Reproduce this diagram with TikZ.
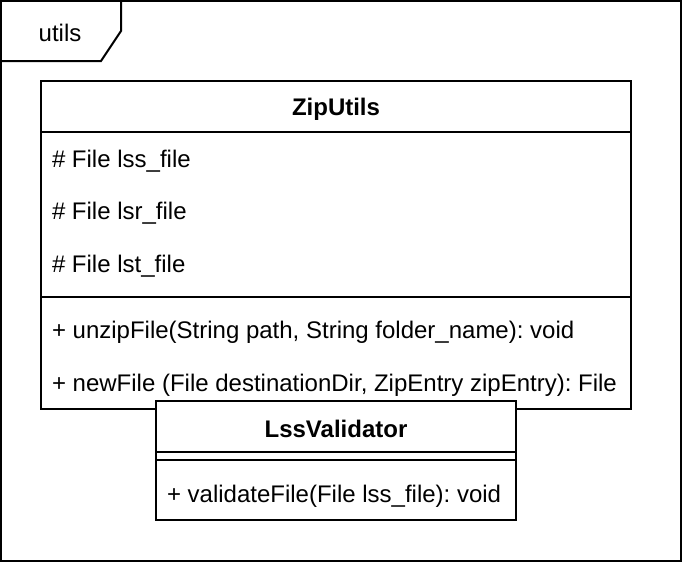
\documentclass[tikz,border=0pt]{standalone}
\usepackage{fontspec}
\setmainfont{Liberation Sans}
\frenchspacing
\usetikzlibrary{positioning}

\begin{document}
\begin{tikzpicture}[x=0.75pt,y=-0.75pt,line width=1.5pt,
		member/.style={anchor=west,inner sep=0pt,font=\fontsize{18}{21}\selectfont},
		title/.style={inner sep=0pt,font=\fontsize{18}{21}\selectfont\bfseries}]
		\useasboundingbox (0,0) rectangle (682,562);

		% Package frame
		\draw (1,1) rectangle (681,561);
		\draw (1,61) -- (101,61) -- (121,31) -- (121,1);
		\node[inner sep=0pt,font=\fontsize{18}{21}\selectfont] (pkg) at (60,33) {utils};

		% ZipUtils
		\draw[fill=white] (41,81) rectangle (631,409);
		\draw (41,132) -- (631,132);
		\draw (41,297) -- (631,297);
		\node[title] (zip) at (336,109) {ZipUtils};
		\node[member] (lss) at (51,161) {\# File lss\_file};
		\node[member] (lsr) at (51,213) {\# File lsr\_file};
		\node[member] (lst) at (51,266) {\# File lst\_file};
		\node[member] (unzip) at (51,332) {+ unzipFile(String path, String folder\_name): void};
		\node[member] (newfile) at (51,385) {+ newFile (File destinationDir, ZipEntry zipEntry): File};

		% LssValidator
		\draw[fill=white] (156,401) rectangle (516,520);
		\draw (156,452) -- (516,452);
		\draw (156,460) -- (516,460);
		\node[title] (val) at (336,429) {LssValidator};
		\node[member] (validate) at (166,496) {+ validateFile(File lss\_file): void};
	\end{tikzpicture}
\end{document}
